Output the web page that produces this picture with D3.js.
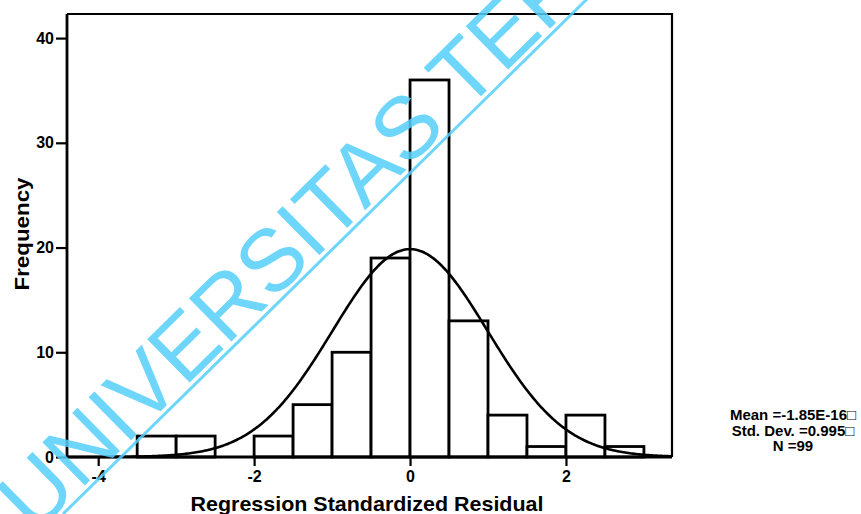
<!DOCTYPE html>
<html>
<head>
<meta charset="utf-8">
<script src="https://cdn.jsdelivr.net/npm/d3@7"></script>
<style>
  body { margin: 0; background: #fff; }
  text { font-family: "Liberation Sans", Arial, sans-serif; }
</style>
</head>
<body>
<div id="chart"></div>
<script>
// histogram bins (lower edge) and counts
var binStarts = [-3.5, -3.0, -2.5, -2.0, -1.5, -1.0, -0.5, 0.0, 0.5, 1.0, 1.5, 2.0, 2.5];
var counts    = [2, 2, 0, 2, 5, 10, 19, 36, 13, 4, 1, 4, 1];
var binWidth = 0.5;
var xTicks = [-4, -2, 0, 2];
var yTicks = [0, 10, 20, 30, 40];
var statLines = ["Mean =-1.85E-16\u25A1", "Std. Dev. =0.995\u25A1", "N =99"];
var mean = -1.85e-16, sd = 0.995, n = 99;

var W = 861, H = 514;
var margin = {top: 14, right: 189, bottom: 57, left: 67};
var width = W - margin.left - margin.right;
var height = H - margin.top - margin.bottom;

var svg = d3.select("#chart").append("svg")
    .attr("width", W)
    .attr("height", H);

var g = svg.append("g")
    .attr("transform", "translate(" + margin.left + "," + margin.top + ")");

var x = d3.scaleLinear().domain([-4.4, 3.36]).range([0, width]);
var y = d3.scaleLinear().domain([0, 42.3]).range([height, 0]);

// frame: top and right
g.append("path")
    .attr("d", "M0,0H" + width + "V" + height)
    .attr("fill", "none")
    .attr("stroke", "#000")
    .attr("stroke-width", 2.2);

// bars
g.selectAll(".bar")
    .data(counts)
    .enter()
    .append("rect")
    .attr("class", "bar")
    .attr("x", function(d, i) { return x(binStarts[i]); })
    .attr("y", function(d) { return y(d); })
    .attr("width", function(d, i) { return x(binStarts[i] + binWidth) - x(binStarts[i]); })
    .attr("height", function(d) { return height - y(d); })
    .attr("fill", "#fff")
    .attr("stroke", "#000")
    .attr("stroke-width", function(d) { return d > 0 ? 2.8 : 0; });

// normal curve from mean / sd / N
var curvePts = d3.range(-4.4, 3.361, 0.02).map(function(v) {
    var z = (v - mean) / sd;
    return [v, n * binWidth * Math.exp(-0.5 * z * z) / (sd * Math.sqrt(2 * Math.PI))];
});
g.append("path")
    .datum(curvePts)
    .attr("d", d3.line().x(function(d) { return x(d[0]); }).y(function(d) { return y(d[1]); }))
    .attr("fill", "none")
    .attr("stroke", "#000")
    .attr("stroke-width", 2.6);

// axes
var fmt = function(d) { return String(d); };
var xAxis = d3.axisBottom(x).tickValues(xTicks).tickFormat(fmt).tickSize(9).tickPadding(5);
var yAxis = d3.axisLeft(y).tickValues(yTicks).tickFormat(fmt).tickSize(11).tickPadding(2);

var gx = g.append("g")
    .attr("transform", "translate(0," + height + ")")
    .call(xAxis);
var gy = g.append("g").call(yAxis);

[gx, gy].forEach(function(a) {
    a.select(".domain").attr("stroke-width", 2.8);
    a.selectAll(".tick line").attr("stroke-width", 2.2);
    a.selectAll("text")
        .attr("font-size", 16)
        .attr("font-weight", "bold")
        .attr("font-family", "Liberation Sans, Arial, sans-serif")
        .attr("fill", "#000");
});
gx.select(".domain").attr("d", "M0,0H" + width);
gy.select(".domain").attr("d", "M0,0V" + height);

// axis titles
svg.append("text")
    .attr("x", 367)
    .attr("y", 511)
    .attr("text-anchor", "middle")
    .attr("font-size", 21)
    .attr("font-weight", "bold")
    .attr("textLength", 353)
    .attr("lengthAdjust", "spacingAndGlyphs")
    .text("Regression Standardized Residual");

svg.append("text")
    .attr("transform", "translate(29,234) rotate(-90)")
    .attr("text-anchor", "middle")
    .attr("font-size", 21)
    .attr("font-weight", "bold")
    .attr("textLength", 113)
    .attr("lengthAdjust", "spacingAndGlyphs")
    .text("Frequency");

// stats box
svg.selectAll(".stat")
    .data(statLines)
    .enter()
    .append("text")
    .attr("class", "stat")
    .attr("x", 793)
    .attr("y", function(d, i) { return 420 + i * 15.5; })
    .attr("text-anchor", "middle")
    .attr("font-size", 15)
    .attr("font-weight", "bold")
    .text(function(d) { return d; });

// watermark
var wm = svg.append("g")
    .attr("transform", "translate(63,514) rotate(-44.5)")
    .attr("opacity", 0.85);
wm.append("text")
    .attr("x", -35)
    .attr("y", -5)
    .attr("font-size", 88)
    .attr("fill", "#55d0fb")
    .attr("font-family", "Liberation Sans, Arial, sans-serif")
    .text("UNIVERSITAS TERBUKA");
wm.append("line")
    .attr("x1", 0).attr("y1", 0)
    .attr("x2", 900).attr("y2", 0)
    .attr("stroke", "#55d0fb")
    .attr("stroke-width", 3);
</script>
</body>
</html>
